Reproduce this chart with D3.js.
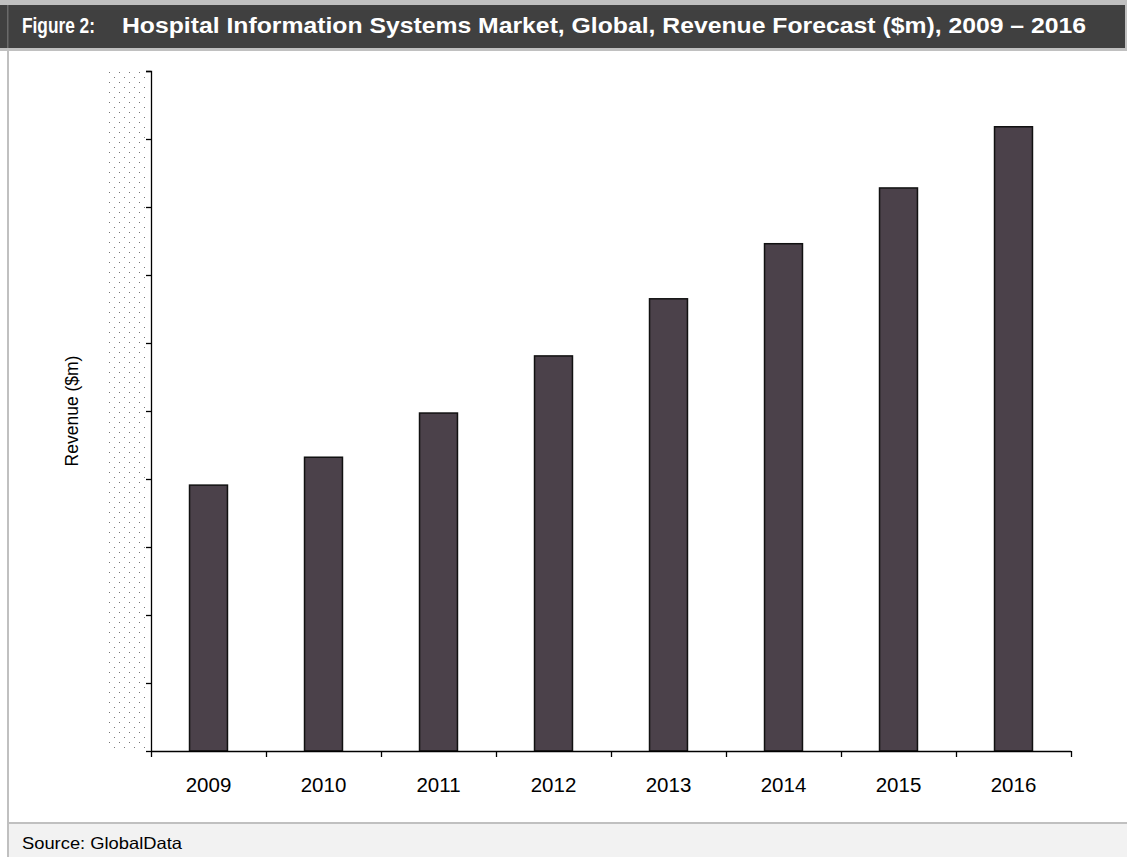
<!DOCTYPE html>
<html>
<head>
<meta charset="utf-8">
<script src="https://cdn.jsdelivr.net/npm/d3@7"></script>
<style>
html,body{margin:0;padding:0;background:#fff;}
svg{display:block;}
text{font-family:"Liberation Sans",Arial,sans-serif;}
</style>
</head>
<body>
<script>
const categories = ["2009","2010","2011","2012","2013","2014","2015","2016"];
const revenue = [3910, 4320, 4970, 5810, 6650, 7460, 8280, 9180];
const yTicks = [0,1000,2000,3000,4000,5000,6000,7000,8000,9000,10000];
const titleLabel = "Figure 2:";
const titleText = "Hospital Information Systems Market, Global, Revenue Forecast ($m), 2009 – 2016";
const sourceText = "Source: GlobalData";
const yLabel = "Revenue ($m)";

const W = 1127, H = 857;
const svg = d3.select("body").append("svg").attr("width", W).attr("height", H);

const defs = svg.append("defs");
const pat = defs.append("pattern").attr("id","dots").attr("patternUnits","userSpaceOnUse")
  .attr("width",10).attr("height",10).attr("x",108).attr("y",71);
pat.append("rect").attr("x",0).attr("y",0).attr("width",10).attr("height",10).attr("fill","#fff");
pat.append("rect").attr("x",1).attr("y",1).attr("width",1).attr("height",1).attr("fill","#777");
pat.append("rect").attr("x",6).attr("y",6).attr("width",1).attr("height",1).attr("fill","#777");

// frame
svg.append("rect").attr("x",0).attr("y",0).attr("width",W).attr("height",H).attr("fill","#fff");
svg.append("rect").attr("x",0).attr("y",0).attr("width",W).attr("height",51).attr("fill","#c0c0c0");
svg.append("rect").attr("x",0).attr("y",5).attr("width",1125).attr("height",43).attr("fill","#404040");
svg.append("rect").attr("x",7).attr("y",5).attr("width",1.5).attr("height",43).attr("fill","#6a6a6a");
svg.append("rect").attr("x",7).attr("y",48).attr("width",2).attr("height",H-48).attr("fill","#c0c0c0");
svg.append("rect").attr("x",9).attr("y",822).attr("width",W-9).attr("height",2).attr("fill","#c0c0c0");
svg.append("rect").attr("x",9).attr("y",824).attr("width",W-9).attr("height",H-824).attr("fill","#f2f2f2");

svg.append("text").attr("x",22).attr("y",33).attr("fill","#fff").attr("font-weight","bold")
  .attr("font-size",22).attr("textLength",73).attr("lengthAdjust","spacingAndGlyphs").text(titleLabel);
svg.append("text").attr("x",122).attr("y",33).attr("fill","#fff").attr("font-weight","bold")
  .attr("font-size",22.5).attr("textLength",964).attr("lengthAdjust","spacingAndGlyphs").text(titleText);
svg.append("text").attr("x",22).attr("y",849).attr("fill","#000").attr("font-size",16.5)
  .attr("textLength",160).attr("lengthAdjust","spacingAndGlyphs").text(sourceText);

// chart
const x = d3.scaleBand().domain(categories).range([151,1071]).paddingInner(0).paddingOuter(0);
const y = d3.scaleLinear().domain([0,10000]).range([751,71]);

svg.append("rect").attr("x",108).attr("y",71).attr("width",41).attr("height",680).attr("fill","url(#dots)");

const bw = x.bandwidth()*0.33;
svg.append("g").selectAll("rect").data(revenue).join("rect")
  .attr("x",(d,i)=>x(categories[i]) + x.bandwidth()/2 - bw/2)
  .attr("y",d=>y(d))
  .attr("width",bw)
  .attr("height",d=>y(0)-y(d))
  .attr("fill","#4b414a").attr("stroke","#111").attr("stroke-width",1.5);

const yAxis = d3.axisLeft(y).tickValues(yTicks).tickSize(5).tickFormat("");
const gy = svg.append("g").attr("transform","translate(151,0)").call(yAxis);
gy.select(".domain").attr("stroke","#000").attr("stroke-width",1.3).attr("d","M-5,71.5H0.5V751.5");
gy.selectAll(".tick line").attr("stroke","#000").attr("stroke-width",1.3);

// x axis with ticks at category boundaries
const xAxisG = svg.append("g").attr("transform","translate(0,751)");
xAxisG.append("line").attr("x1",151).attr("x2",1071).attr("y1",0.5).attr("y2",0.5).attr("stroke","#000").attr("stroke-width",1.3);
const bounds = categories.map(c=>x(c)).concat([x(categories[categories.length-1])+x.bandwidth()]);
xAxisG.selectAll("line.tk").data(bounds).join("line").attr("class","tk")
  .attr("x1",d=>d+0.5).attr("x2",d=>d+0.5).attr("y1",0).attr("y2",6).attr("stroke","#000").attr("stroke-width",1.3);
xAxisG.selectAll("text").data(categories).join("text")
  .attr("x",d=>x(d)+x.bandwidth()/2).attr("y",41).attr("text-anchor","middle")
  .attr("font-size",20.5).attr("fill","#000").text(d=>d);

svg.append("text").attr("transform","translate(78,411) rotate(-90)").attr("text-anchor","middle")
  .attr("font-size",17.5).attr("fill","#000").text(yLabel);
</script>
</body>
</html>
